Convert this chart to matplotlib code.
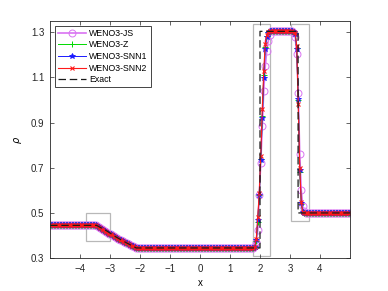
import numpy as np
import matplotlib.pyplot as plt
from matplotlib.patches import Rectangle

plt.rcParams['font.family'] = ['Liberation Sans', 'DejaVu Sans']
plt.rcParams['font.size'] = 7
plt.rcParams['mathtext.fontset'] = 'dejavusans'

# grid cell centres, 200 cells on [-5, 5]
x = np.linspace(-4.975, 4.975, 200)

# rarefaction part (same for all schemes), x = -3.425 ... -2.125
rare = [0.4415, 0.4366, 0.4325, 0.4284, 0.4244, 0.4204, 0.4164, 0.4125, 0.4086,
        0.4047, 0.4009, 0.3971, 0.3934, 0.3897, 0.3860, 0.3824, 0.3788, 0.3753,
        0.3718, 0.3683, 0.3649, 0.3615, 0.3581, 0.3548, 0.3515, 0.3483, 0.3458]

# contact, x = 1.825 ... 2.325
contact_js = [0.352, 0.372, 0.424, 0.58, 0.72, 0.884, 1.042, 1.15, 1.217, 1.262, 1.29]
contact_z = [0.349, 0.375, 0.46, 0.58, 0.74, 0.93, 1.11, 1.235, 1.285, 1.301, 1.304]
contact_snn1 = [0.35, 0.38, 0.47, 0.58, 0.735, 0.921, 1.099, 1.224, 1.278, 1.298, 1.304]
contact_snn2 = [0.35, 0.385, 0.48, 0.59, 0.75, 0.96, 1.13, 1.25, 1.29, 1.302, 1.304]

# shock, x = 3.125 ... 3.525
shock_js = [1.297, 1.28, 1.202, 1.032, 0.762, 0.602, 0.53, 0.508, 0.501]
shock_z = [1.302, 1.293, 1.23, 1.0, 0.68, 0.54, 0.505, 0.5, 0.5]
shock_snn1 = [1.30, 1.291, 1.224, 1.005, 0.688, 0.546, 0.506, 0.501, 0.5]
shock_snn2 = [1.302, 1.295, 1.24, 0.981, 0.70, 0.55, 0.506, 0.501, 0.5]


def series(contact, shock):
    return ([0.445] * 31 + rare + [0.345] * 78 + contact + [1.304] * 15
            + shock + [0.5] * 29)


rho_js = series(contact_js, shock_js)
rho_z = series(contact_z, shock_z)
rho_snn1 = series(contact_snn1, shock_snn1)
rho_snn2 = series(contact_snn2, shock_snn2)

# exact solution
x_exact = [-5, -3.45, -3.1, -2.8, -2.45, -2.125, 2.0, 2.0, 3.27, 3.27, 5]
rho_exact = [0.445, 0.445, 0.4195, 0.3935, 0.3675, 0.345, 0.345, 1.304, 1.304, 0.5, 0.5]

# zoom boxes (x0, x1, y0, y1)
boxes = [(-3.8, -3.0, 0.375, 0.5), (1.75, 2.35, 0.31, 1.335), (3.05, 3.65, 0.466, 1.335)]

fig = plt.figure(figsize=(3.88, 2.91), dpi=100)
ax = fig.add_axes([0.129, 0.113, 0.773, 0.815])

ax.plot(x, rho_js, '-o', color=(0.85, 0.45, 0.95), mfc='none', ms=5, lw=1.2,
        mew=0.7, label='WENO3-JS')
ax.plot(x, rho_z, '-+', color=(0.0, 0.85, 0.0), ms=4.5, lw=0.7, mew=0.7, label='WENO3-Z')
ax.plot(x, rho_snn1, '-*', color=(0.1, 0.1, 1.0), ms=4, lw=0.7, mew=0.6,
        label='WENO3-SNN1')
ax.plot(x, rho_snn2, '-x', color=(1.0, 0.1, 0.1), ms=3.5, lw=0.8, mew=0.8,
        label='WENO3-SNN2')
ax.plot(x_exact, rho_exact, '--', color=(0.1, 0.1, 0.1), lw=0.9, dashes=(6, 3),
        label='Exact')

for x0, x1, y0, y1 in boxes:
    ax.add_patch(Rectangle((x0, y0), x1 - x0, y1 - y0, fill=False,
                           ec=(0.72, 0.72, 0.72), lw=0.9))

ax.set_xlim(-5, 5)
ax.set_ylim(0.3, 1.35)
ax.set_xticks(range(-4, 5))
ax.set_yticks([0.3, 0.5, 0.7, 0.9, 1.1, 1.3])
ax.set_xlabel('x', labelpad=3)
ax.set_ylabel(r'$\rho$', labelpad=5)
ax.tick_params(direction='in', top=True, right=True, length=3, width=0.5,
               colors=(0.15, 0.15, 0.15), pad=4)
for s in ax.spines.values():
    s.set_color((0.15, 0.15, 0.15))
    s.set_linewidth(0.6)

leg = ax.legend(loc='upper left', fontsize=6.3, handlelength=3.2, fancybox=False,
                framealpha=1, edgecolor=(0.15, 0.15, 0.15), borderpad=0.3,
                labelspacing=0.3, handletextpad=0.4, borderaxespad=0.6)
leg.get_frame().set_linewidth(0.6)

fig.savefig('out.png', dpi=100)
